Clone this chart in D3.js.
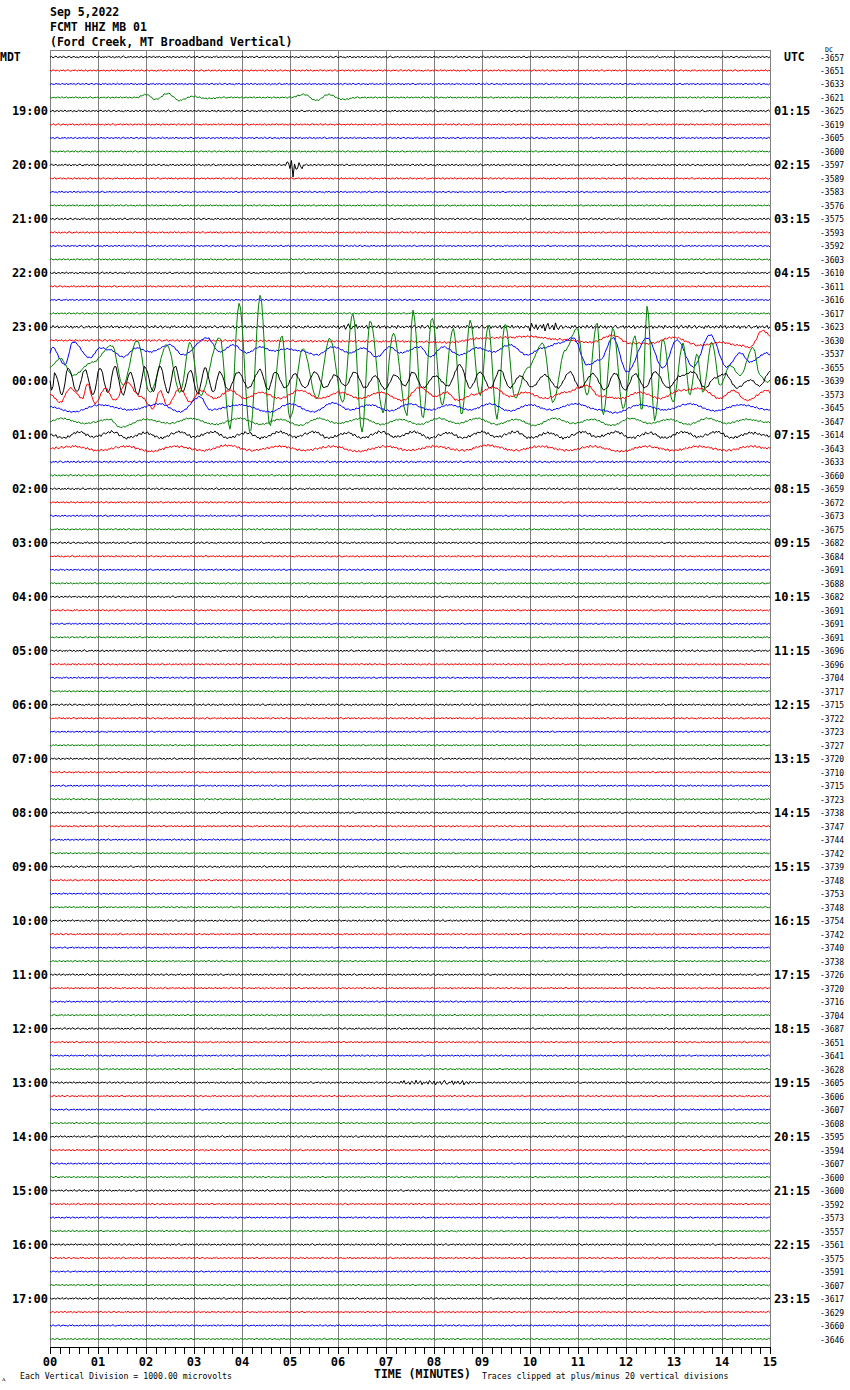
<!DOCTYPE html>
<html><head><meta charset="utf-8">
<script src="https://cdn.jsdelivr.net/npm/d3@7"></script>
<style>body{margin:0;background:#fff}svg{display:block}</style>
</head><body><svg id="c" width="850" height="1390"></svg>
<script>
// ---------------- data ----------------
const titleLines = ["Sep 5,2022", "FCMT HHZ MB 01", "(Ford Creek, MT Broadband Vertical)"];
const minuteLabels = ["00","01","02","03","04","05","06","07","08","09","10","11","12","13","14","15"];
const leftHourLabels = ["19:00","20:00","21:00","22:00","23:00","00:00","01:00","02:00","03:00","04:00","05:00","06:00","07:00","08:00","09:00","10:00","11:00","12:00","13:00","14:00","15:00","16:00","17:00"];
const rightHourLabels = ["01:15","02:15","03:15","04:15","05:15","06:15","07:15","08:15","09:15","10:15","11:15","12:15","13:15","14:15","15:15","16:15","17:15","18:15","19:15","20:15","21:15","22:15","23:15"];
const dcValues = [
 -3657,-3651,-3633,-3621,-3625,-3619,-3605,-3600,-3597,-3589,-3583,-3576,-3575,-3593,-3592,-3603,
 -3610,-3611,-3616,-3617,-3623,-3630,-3537,-3655,-3639,-3573,-3645,-3647,-3614,-3643,-3633,-3660,
 -3659,-3672,-3673,-3675,-3682,-3684,-3691,-3688,-3682,-3691,-3691,-3691,-3696,-3696,-3704,-3717,
 -3715,-3722,-3723,-3727,-3720,-3710,-3715,-3723,-3738,-3747,-3744,-3742,-3739,-3748,-3753,-3748,
 -3754,-3742,-3740,-3738,-3726,-3720,-3716,-3704,-3687,-3651,-3641,-3628,-3605,-3606,-3607,-3608,
 -3595,-3594,-3607,-3600,-3600,-3592,-3573,-3557,-3561,-3575,-3591,-3607,-3617,-3629,-3660,-3646];
const traceColors = ["#000000","#ff0000","#0000ff","#008000"];
// background noise level per trace
const noiseLevels = [
 1.1,1.0,0.9,0.9, 1.1,1.0,0.9,0.9, 1.1,1.0,0.9,0.9, 1.1,1.0,0.9,0.9, 1.1,1.0,0.9,0.9,
 1.6,1.3,1.0,1.0, 1.1,1.2,1.0,1.0, 1.6,1.4,1.2,1.1, 1.1,1.0,0.9,0.9, 1.1,1.0,0.9,0.9,
 1.1,1.0,0.9,0.9, 1.1,1.0,0.9,0.9, 1.1,1.0,0.9,0.9, 1.1,1.0,0.9,0.9, 1.1,1.0,0.9,0.9,
 1.1,1.0,0.9,0.9, 1.1,1.0,0.9,0.9, 1.1,1.0,0.9,0.9, 1.1,1.0,0.9,0.9, 1.1,1.0,0.9,0.9,
 1.1,1.0,0.9,0.9, 1.1,1.0,0.9,0.9, 1.1,1.0,0.9,0.9, 1.1,1.0,0.9,0.9];
const noisePattern = [0.3,-0.6,0.9,-0.2,-0.8,0.5,0.1,-0.4,0.7,-0.9,0.2,0.6,-0.3,-0.7,0.8,0.0,-0.5,0.4,-0.1,0.9,-0.6,0.3,-0.8,0.5,0.2,-0.3,0.7,-0.5,-0.1,0.6,-0.9,0.4,0.1,-0.7,0.8,-0.2,0.3,-0.4,0.6,-0.8,0.0,0.5,-0.6,0.9,-0.3,0.2,-0.5,0.7,-0.1,-0.9,0.4,0.6,-0.2,0.1,-0.7,0.8,-0.4,0.3,-0.6,0.5,0.2,-0.8,0.9,-0.1,-0.3,0.6,-0.5,0.0,0.4,-0.9,0.7,-0.2,0.1,-0.6,0.8,-0.4,0.3,0.5,-0.7,0.2,-0.3,0.9,-0.8,0.1,0.4,-0.5,0.6,-0.1,-0.4];
// short bursts: [trace, startMin, endMin, level]
const bursts = [[20,6.0,15,2.0],[20,10.0,10.6,4.5],[20,6.1,6.4,3.5],[76,7.3,8.8,2.6]];
// read wave extrema: [minute, offset]
const wave03 = [[0,0],[1.8,0],[2.0,-3],[2.2,2],[2.45,-4],[2.7,3],[2.95,-1],[3.3,1],[3.6,0],[5.0,0],[5.3,-3],[5.55,3],[5.8,-3],[6.1,2],[6.4,0],[15,0]];
const wave08 = [[0,0],[4.9,0],[4.96,-3],[5.0,3],[5.04,-5],[5.07,16],[5.1,-4],[5.14,8],[5.18,-3],[5.24,3],[5.3,0],[15,0]];
const wave21 = [[0,0],[1.88,0],[7.29,1],[8.33,2],[8.96,-2],[9.58,-3],[9.94,-4],[10.63,-1],[11.25,2],[11.73,-5],[12.08,3],[12.5,3],[12.98,-3],[13.54,5],[13.96,2],[14.38,5],[14.58,7],[14.85,-10],[15,-5]];
const wave22 = [[0,0],[0.04,-7],[0.31,11],[0.48,-12],[0.83,4],[1.04,-6],[1.25,-4],[1.52,3],[1.81,-6],[2.08,-2],[2.5,-9],[2.77,1],[3.27,-16],[3.54,-2],[3.81,-9],[4.10,-1],[4.38,-7],[4.65,-3],[4.94,-5],[5.21,-3],[5.56,1],[5.90,-7],[6.25,-1],[6.52,-6],[6.81,3],[7.08,-7],[7.29,-1],[7.71,-7],[7.92,3],[8.19,-7],[8.54,1],[8.90,-6],[9.23,-2],[9.58,-9],[9.94,1],[10.27,-6],[10.63,-11],[10.90,-16],[11.19,11],[11.46,6],[11.73,-16],[12.02,18],[12.44,-16],[12.77,14],[13.06,-14],[13.40,13],[13.75,-19],[14.10,13],[14.38,-1],[14.58,8],[14.94,-1],[15,1]];
const wave23 = [[0,0],[0.04,-2],[0.21,-9],[0.48,8],[0.88,-5],[1.29,-22],[1.52,18],[1.81,-27],[2.08,25],[2.44,-22],[2.71,25],[2.92,-25],[3.13,28],[3.54,-30],[3.75,61],[3.94,-64],[4.17,65],[4.38,-72],[4.58,58],[4.83,-32],[5.0,51],[5.27,-19],[5.56,31],[5.83,-29],[6.10,35],[6.31,-54],[6.50,65],[6.67,-47],[6.94,45],[7.15,-34],[7.44,48],[7.56,-57],[7.77,51],[7.96,-50],[8.17,38],[8.40,-39],[8.58,48],[8.75,-47],[8.96,28],[9.13,-42],[9.31,51],[9.48,-44],[9.69,31],[9.94,1],[10.27,-24],[10.48,35],[10.73,-17],[10.98,-39],[11.19,28],[11.40,-45],[11.52,48],[11.73,-39],[11.94,41],[12.19,-32],[12.33,45],[12.44,-61],[12.60,53],[12.77,-29],[12.98,35],[13.19,-24],[13.33,28],[13.48,-14],[13.60,25],[13.79,-25],[13.96,18],[14.17,-2],[14.38,8],[14.65,-20],[14.79,8],[14.94,15],[15,13]];
const wave24 = [[0,0],[0.04,11],[0.10,-8],[0.25,14],[0.38,-13],[0.56,11],[0.73,-11],[0.90,14],[1.04,-13],[1.21,12],[1.35,-15],[1.52,14],[1.67,-9],[1.83,14],[1.98,-14],[2.15,11],[2.29,-15],[2.46,12],[2.60,-15],[2.77,11],[2.92,-11],[3.08,13],[3.23,-13],[3.40,11],[3.54,-9],[3.71,9],[3.92,-9],[4.13,7],[4.38,-11],[4.54,9],[4.69,-9],[4.90,7],[5.10,-7],[5.31,7],[5.52,-9],[5.73,7],[5.94,-6],[6.15,5],[6.35,-9],[6.56,7],[6.77,-5],[6.98,8],[7.19,-6],[7.40,5],[7.56,-9],[7.77,7],[8.02,-5],[8.29,5],[8.54,-16],[8.75,7],[8.96,-9],[9.17,7],[9.38,-11],[9.58,7],[9.79,-5],[10.04,6],[10.31,-6],[10.58,7],[10.83,-9],[11.04,7],[11.31,-7],[11.56,9],[11.77,-8],[11.98,9],[12.19,-7],[12.40,7],[12.60,-9],[12.88,7],[13.13,-5],[13.40,-9],[13.65,7],[13.85,-3],[14.06,-7],[14.31,7],[14.58,-1],[14.79,5],[15,-9]];
const wave25 = [[0,0],[0.21,8],[0.42,-6],[0.69,4],[0.77,-11],[0.94,9],[1.15,-6],[1.35,6],[1.60,-12],[1.88,2],[2.15,14],[2.29,-4],[2.44,11],[2.71,-6],[2.92,8],[3.13,-4],[3.44,4],[3.75,-4],[4.06,4],[4.38,-2],[4.79,4],[5.21,-4],[5.63,4],[6.04,-2],[6.46,4],[6.88,-2],[7.35,6],[7.71,-7],[8.02,2],[8.27,-2],[8.48,6],[8.85,0],[9.23,-7],[9.58,2],[9.90,-2],[10.31,4],[10.73,-2],[11.19,-9],[11.46,2],[11.88,4],[12.29,-2],[12.71,4],[13.13,-4],[13.54,-6],[13.96,4],[14.23,-4],[14.52,6],[14.94,-4],[15,-2]];
const wave26 = [[0,-1],[0.48,4],[1.04,-3],[1.67,2],[2.29,-4],[2.71,4],[3.13,-11],[3.33,2],[3.96,-3],[4.58,4],[5.0,-4],[5.48,4],[5.90,-5],[6.25,2],[6.67,-3],[7.08,3],[7.5,-4],[7.92,2],[8.33,-3],[8.75,2],[9.17,-4],[9.58,3],[10,-3],[10.42,2],[10.94,-4],[11.46,2],[11.77,5],[12.29,-3],[12.81,2],[13.33,-4],[13.85,3],[14.38,-3],[15,2]];
const wave27 = [[0,0],[0.21,-3],[0.73,2],[1.25,-2],[1.46,6],[1.98,-2],[2.5,2],[2.92,-3],[3.44,3],[3.96,-3],[4.38,3],[4.8,-2],[5.2,4],[5.6,-3],[6.0,2],[6.5,-3],[6.9,3],[7.3,-2],[7.7,3],[8.1,-3],[8.5,2],[8.9,-3],[9.3,3],[9.7,-2],[10.1,4],[10.5,-3],[10.9,2],[11.3,-2],[11.7,4],[12.1,-3],[12.5,2],[12.9,-2],[13.3,3],[13.7,-3],[14.1,2],[14.5,-2],[15,1]];
const wave28 = [[0,0],[0.3,3],[0.6,-3],[0.9,2],[1.3,-3],[1.6,3],[2.0,-2],[2.3,3],[2.7,-3],[3.0,2],[3.4,-3],[3.7,3],[4.1,-2],[4.4,3],[4.8,-3],[5.1,2],[5.5,-3],[5.8,3],[6.2,-2],[6.5,3],[6.9,-3],[7.2,2],[7.6,-3],[7.9,3],[8.3,-2],[8.6,3],[9.0,-3],[9.3,2],[9.7,-3],[10.0,3],[10.4,-2],[10.7,3],[11.1,-3],[11.4,2],[11.8,-3],[12.1,3],[12.5,-2],[12.8,3],[13.2,-3],[13.5,2],[13.9,-3],[14.2,3],[14.6,-2],[15,1]];
const wave29 = [[0,0],[0.5,-2],[1.0,2],[1.6,-2],[2.1,3],[2.6,-2],[3.2,2],[3.7,-3],[4.2,2],[4.8,-2],[5.3,2],[5.9,-2],[6.4,3],[7.0,-2],[7.5,2],[8.0,-2],[8.6,2],[9.1,-3],[9.7,2],[10.2,-2],[10.8,2],[11.3,-2],[11.9,3],[12.4,-2],[13.0,2],[13.5,-2],[14.1,2],[14.6,-2],[15,0]];
const waveRows = new Map([[3,wave03],[8,wave08],[21,wave21],[22,wave22],[23,wave23],[24,wave24],[25,wave25],[26,wave26],[27,wave27],[28,wave28],[29,wave29]]);

// ---------------- drawing ----------------
const svg = d3.select("#c");
const x = d3.scaleLinear().domain([0,15]).range([50,770]);
const rowY = d3.scaleLinear().domain([0,95]).range([57,1339]);
const amp = d3.scaleLinear().domain([-1,1]).range([-1,1]);
const FONT = "'DejaVu Sans Mono', monospace";

// grid
svg.append("g").selectAll("line").data(d3.range(0,16)).join("line")
  .attr("x1", d=>x(d)+0.5).attr("x2", d=>x(d)+0.5).attr("y1", 50).attr("y2", 1347)
  .attr("stroke", "#808080").attr("stroke-width", 1);
svg.append("line").attr("x1", 50).attr("x2", 771).attr("y1", 50.5).attr("y2", 50.5).attr("stroke", "#808080");

// traces
function waveAt(ext, t) {
  let k = d3.bisectRight(ext.map(e=>e[0]), t) - 1;
  if (k < 0) return ext[0][1];
  if (k >= ext.length-1) return ext[ext.length-1][1];
  const a = ext[k], b = ext[k+1];
  const f = (t - a[0]) / (b[0] - a[0]);
  return a[1] + (b[1]-a[1]) * (1 - Math.cos(Math.PI*f)) / 2;
}
const samples = d3.range(0, 481).map(i => i/32);
const N = noisePattern.length;
const tg = svg.append("g").attr("fill", "none");
for (let r = 0; r < 96; r++) {
  const ext = waveRows.get(r);
  const vals = samples.map((t, i) => {
    let lvl = noiseLevels[r];
    bursts.forEach(b => { if (b[0]===r && t>=b[1] && t<=b[2]) lvl = Math.max(lvl, b[3]); });
    const base = ext ? waveAt(ext, t) : 0;
    return [t, base + lvl * noisePattern[(i + r*37) % N]];
  });
  const y0 = rowY(r);
  const line = d3.line().x(d => x(d[0])).y(d => y0 + amp(d[1]));
  tg.append("path").attr("d", line(vals)).attr("stroke", traceColors[r % 4]).attr("stroke-width", 1);
}

// title
svg.append("g").selectAll("text").data(titleLines).join("text")
  .attr("x", 50).attr("y", (d,i)=>16 + i*15).text(d=>d)
  .attr("font-family", FONT).attr("font-weight", "bold").attr("font-size", 11.5);

// side headers
svg.append("text").attr("x", 0).attr("y", 61).text("MDT").attr("font-family", FONT).attr("font-weight","bold").attr("font-size", 11.5);
svg.append("text").attr("x", 784).attr("y", 61).text("UTC").attr("font-family", FONT).attr("font-weight","bold").attr("font-size", 11.5);
svg.append("text").attr("x", 825).attr("y", 51.5).text("DC").attr("font-family", FONT).attr("font-size", 6.5);

// hour labels
svg.append("g").selectAll("text").data(leftHourLabels).join("text")
  .attr("x", 48).attr("y", (d,i)=>rowY(4+4*i)+4.5).attr("text-anchor","end").text(d=>d)
  .attr("font-family", FONT).attr("font-weight","bold").attr("font-size", 12);
svg.append("g").selectAll("text").data(rightHourLabels).join("text")
  .attr("x", 774).attr("y", (d,i)=>rowY(4+4*i)+4.5).text(d=>d)
  .attr("font-family", FONT).attr("font-weight","bold").attr("font-size", 12);

// DC values
svg.append("g").selectAll("text").data(dcValues).join("text")
  .attr("x", 820).attr("y", (d,i)=>rowY(i)+3.5).text(d=>d)
  .attr("font-family", FONT).attr("font-size", 8);

// bottom axis
const axisG = svg.append("g").attr("transform", "translate(0,1347)");
axisG.append("line").attr("x1", 50).attr("x2", 770).attr("y1", 0.5).attr("y2", 0.5).attr("stroke", "#000");
axisG.selectAll("line.t").data(d3.range(0, 75.5).map(i=>i/5)).join("line").attr("class","t")
  .attr("x1", d=>Math.round(x(d))+0.5).attr("x2", d=>Math.round(x(d))+0.5).attr("y1", 0).attr("y2", 7).attr("stroke", "#000");
axisG.selectAll("text").data(minuteLabels).join("text")
  .attr("x", (d,i)=>x(i)).attr("y", 19).attr("text-anchor","middle").text(d=>d)
  .attr("font-family", FONT).attr("font-weight","bold").attr("font-size", 12);

svg.append("text").attr("x", 374).attr("y", 1378).text("TIME (MINUTES)")
  .attr("font-family", FONT).attr("font-weight","bold").attr("font-size", 11.5);
svg.append("text").attr("x", 20).attr("y", 1379).text("Each Vertical Division = 1000.00 microvolts")
  .attr("font-family", FONT).attr("font-size", 8.2);
svg.append("text").attr("x", 482).attr("y", 1379).text("Traces clipped at plus/minus 20 vertical divisions")
  .attr("font-family", FONT).attr("font-size", 8.2);
svg.append("text").attr("x", 2).attr("y", 1381).text("ᴧ").attr("font-family", FONT).attr("font-size", 7);
</script></body></html>
